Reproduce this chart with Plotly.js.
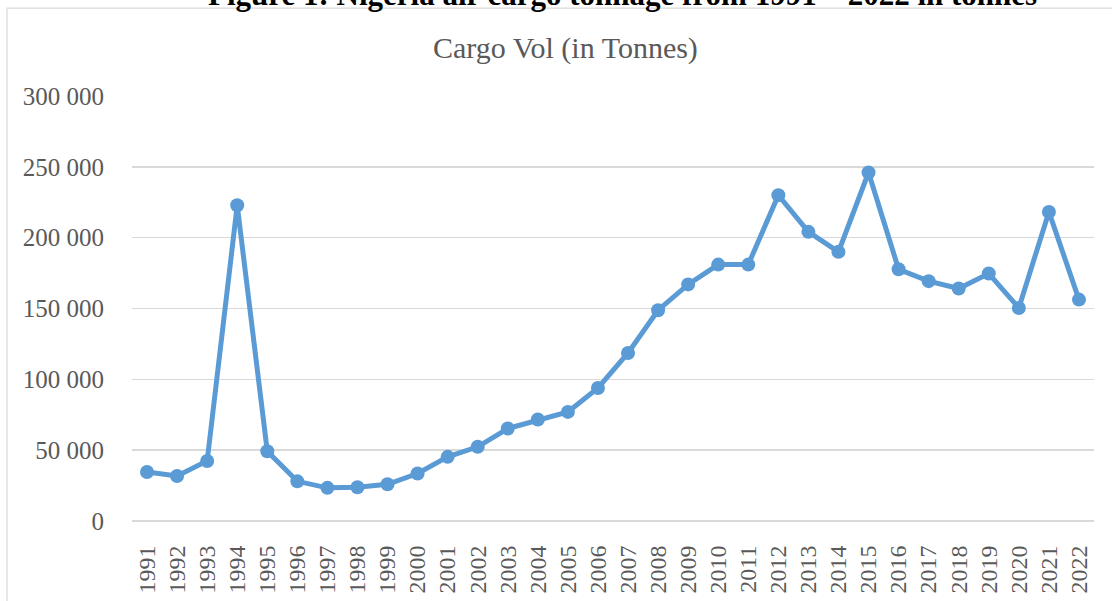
<!DOCTYPE html>
<html>
<head>
<meta charset="utf-8">
<script src="https://cdn.plot.ly/plotly-3.0.1.min.js"></script>
<style>html,body{margin:0;padding:0;background:#fff;}#chart{width:1112px;height:601px;}</style>
</head>
<body>
<div id="chart"></div>
<script>
const years = ["1991","1992","1993","1994","1995","1996","1997","1998","1999","2000","2001","2002","2003","2004","2005","2006","2007","2008","2009","2010","2011","2012","2013","2014","2015","2016","2017","2018","2019","2020","2021","2022"];
const cargoVol = [34600,31800,42400,222900,49200,28000,23400,23800,25900,33500,45300,52400,65300,71600,77000,93900,118600,148800,167000,181000,181000,230000,204100,190000,246000,177700,169300,164100,174700,150400,218200,156300];
const yTicks = [0,50000,100000,150000,200000,250000,300000];
const chartTitle = "Cargo Vol (in Tonnes)";
const figureTitle = "Figure 1: Nigeria air cargo tonnage from 1991 – 2022 in tonnes";

const trace = {
  x: years, y: cargoVol, type: 'scatter', mode: 'lines+markers',
  line: {color: '#5b9bd5', width: 5},
  marker: {color: '#5b9bd5', size: 14},
  hoverinfo: 'x+y'
};
const serif = '"Liberation Serif", "DejaVu Serif", serif';
const layout = {
  width: 1112, height: 601,
  margin: {l: 132, r: 18, t: 96, b: 80, pad: 0},
  paper_bgcolor: '#fff', plot_bgcolor: '#fff',
  separators: '. ',
  showlegend: false,
  xaxis: {
    type: 'category', tickangle: -90,
    tickfont: {family: serif, size: 24, color: '#595959'},
    showgrid: false, showline: false, zeroline: false,
    ticks: 'outside', ticklen: 14, tickcolor: 'rgba(0,0,0,0)',
    range: [-0.5, years.length - 0.5], fixedrange: true
  },
  yaxis: {
    range: [0, 300000], tickvals: yTicks, tickformat: ',d',
    tickfont: {family: serif, size: 25, color: '#595959'},
    showgrid: true, gridcolor: '#d9d9d9', gridwidth: 1.5,
    zeroline: true, zerolinecolor: '#d9d9d9', zerolinewidth: 1.5,
    showline: false,
    ticks: 'outside', ticklen: 22, tickcolor: 'rgba(0,0,0,0)',
    fixedrange: true
  },
  shapes: [{
    type: 'rect', xref: 'paper', yref: 'paper',
    x0: -0.1299, x1: 1.03, y0: -0.25, y1: 1.2066,
    line: {color: '#d9d9d9', width: 1.2}, fillcolor: 'rgba(0,0,0,0)', layer: 'below'
  }],
  annotations: [
    {text: chartTitle, xref: 'paper', yref: 'paper', x: (565-132)/962, y: 1.112,
     xanchor: 'center', yanchor: 'middle', showarrow: false,
     font: {family: serif, size: 30, color: '#595959'}},
    {text: '<b>' + figureTitle + '</b>', xref: 'paper', yref: 'paper', x: (622-132)/962, y: 1.238,
     xanchor: 'center', yanchor: 'middle', showarrow: false,
     font: {family: serif, size: 31, color: '#000'}}
  ]
};
Plotly.newPlot('chart', [trace], layout, {displayModeBar: false, staticPlot: true});
</script>
</body>
</html>
